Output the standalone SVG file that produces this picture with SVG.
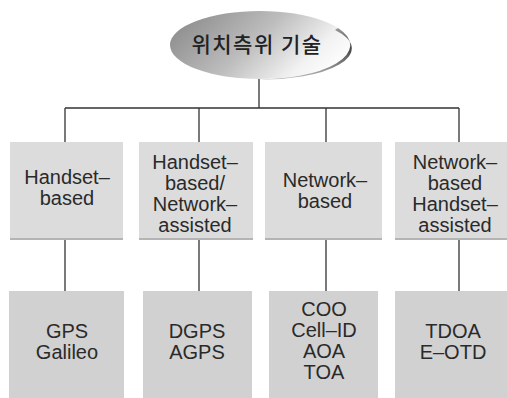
<svg xmlns="http://www.w3.org/2000/svg" width="507" height="398" viewBox="0 0 507 398">
<defs>
<linearGradient id="eg" x1="0" y1="0.3" x2="1" y2="0.7">
<stop offset="0" stop-color="#8e8e8e"/>
<stop offset="0.45" stop-color="#bdbdbd"/>
<stop offset="0.8" stop-color="#f2f2f2"/>
<stop offset="1" stop-color="#ffffff"/>
</linearGradient>
<linearGradient id="rg" x1="0" y1="0" x2="0" y2="1">
<stop offset="0" stop-color="#9a9a9a"/>
<stop offset="0.4" stop-color="#444"/>
<stop offset="1" stop-color="#bbbbbb"/>
</linearGradient>
</defs>
<style>
.b1{fill:#dcdcdc;}
.b2{fill:#d1d1d1;}
.sh{fill:#b4b4b4;}
.t{font-family:"Liberation Sans",Arial,sans-serif;font-size:20px;fill:#2a2a2a;text-anchor:middle;}
.k{font-family:"Noto Sans CJK KR","Noto Sans",sans-serif;font-size:21px;font-weight:500;fill:#222;text-anchor:middle;letter-spacing:1.5px;}
.c{stroke:#333;stroke-width:1.3;fill:none;}
</style>
<rect width="507" height="398" fill="#ffffff"/>
<g id="connectors">
<path class="c" d="M259 78V108M65 108H459M65 108V142M199 108V142M326 108V142M459 108V142"/>
<path class="c" d="M65 240V291M199 240V291M326 240V291M459 240V291"/>
</g>
<g id="root">
<ellipse cx="260" cy="45" rx="90" ry="34" fill="url(#eg)"/>
<path d="M338 28 A90 34 0 0 1 252 79 A86 31 0 0 0 335 30 Z" fill="url(#rg)"/>
<text class="k" x="257" y="52">위치측위 기술</text>
</g>
<g id="handset-based">
<rect class="sh" x="10" y="142" width="113" height="98"/>
<rect class="b1" x="10" y="142" width="113" height="96"/>
<text class="t" x="67" y="184">Handset–</text>
<text class="t" x="67" y="205">based</text>
</g>
<g id="handset-network-assisted">
<rect class="sh" x="139" y="142" width="114" height="98"/>
<rect class="b1" x="139" y="142" width="114" height="96"/>
<text class="t" x="195" y="169">Handset–</text>
<text class="t" x="195" y="190">based/</text>
<text class="t" x="195" y="211">Network–</text>
<text class="t" x="195" y="232">assisted</text>
</g>
<g id="network-based">
<rect class="sh" x="265" y="142" width="117" height="98"/>
<rect class="b1" x="265" y="142" width="117" height="96"/>
<text class="t" x="325" y="187">Network–</text>
<text class="t" x="325" y="208">based</text>
</g>
<g id="network-handset-assisted">
<rect class="sh" x="395" y="142" width="112" height="98"/>
<rect class="b1" x="395" y="142" width="112" height="96"/>
<text class="t" x="455" y="169">Network–</text>
<text class="t" x="455" y="190">based</text>
<text class="t" x="455" y="211">Handset–</text>
<text class="t" x="455" y="232">assisted</text>
</g>
<g id="gps">
<rect class="b2" x="9" y="291" width="115" height="107"/>
<text class="t" x="67" y="338">GPS</text>
<text class="t" x="67" y="359">Galileo</text>
</g>
<g id="dgps">
<rect class="b2" x="143" y="291" width="109" height="107"/>
<text class="t" x="197" y="338">DGPS</text>
<text class="t" x="197" y="359">AGPS</text>
</g>
<g id="coo">
<rect class="b2" x="269" y="291" width="109" height="107"/>
<text class="t" x="324" y="316">COO</text>
<text class="t" x="324" y="337">Cell–ID</text>
<text class="t" x="324" y="358">AOA</text>
<text class="t" x="324" y="379">TOA</text>
</g>
<g id="tdoa">
<rect class="b2" x="395" y="291" width="112" height="107"/>
<text class="t" x="453" y="338">TDOA</text>
<text class="t" x="453" y="359">E–OTD</text>
</g>
</svg>
